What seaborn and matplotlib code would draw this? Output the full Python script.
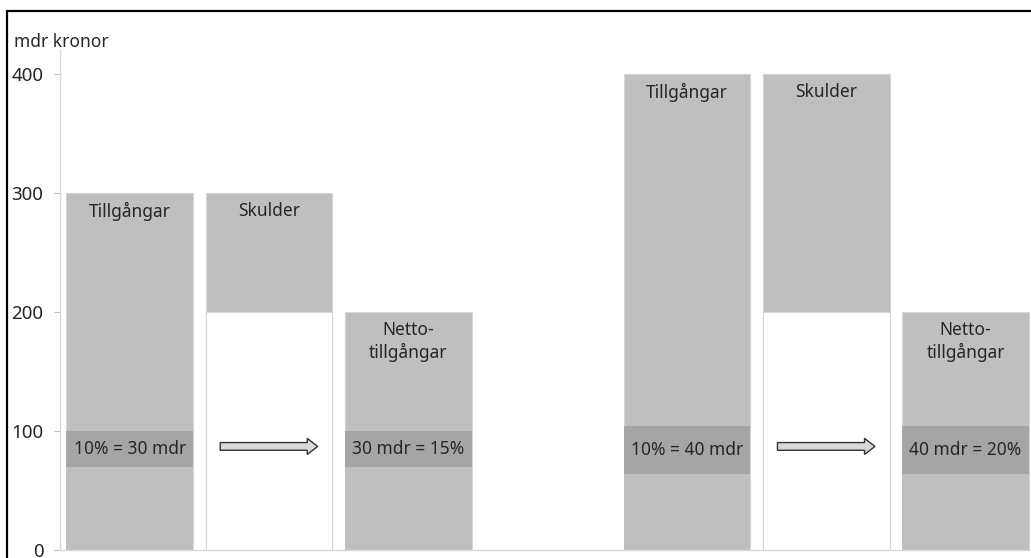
import matplotlib
matplotlib.use("Agg")
import matplotlib.pyplot as plt
from matplotlib.patches import Rectangle, FancyArrow
import numpy as np
import pandas as pd
import seaborn as sns

# ---- data ----
keys = ["A1", "L1", "N1", "gap", "A2", "L2", "N2"]
bar_labels = ["Tillgångar", "Skulder", "Netto-\ntillgångar", "", "Tillgångar", "Skulder", "Netto-\ntillgångar"]
totals = [300, 300, 200, np.nan, 400, 400, 200]          # full bar height
white_part = [np.nan, 200, np.nan, np.nan, np.nan, 200, np.nan]  # uncovered part of liabilities
band_top = [100, np.nan, 100, np.nan, 104, np.nan, 104]
band_bottom = [70, np.nan, 70, np.nan, 64, np.nan, 64]
band_labels = ["10% = 30 mdr", "", "30 mdr = 15%", "", "10% = 40 mdr", "", "40 mdr = 20%"]
arrow_slots = ["L1", "L2"]
arrow_value = 87
yticks = [0, 100, 200, 300, 400]

df = pd.DataFrame({"key": keys, "total": totals, "white": white_part,
                   "btop": band_top, "bbot": band_bottom})

sns.set_theme(style="white")
plt.rcParams["font.family"] = ["Noto Sans", "DejaVu Sans"]

W, H = 1031, 558
fig = plt.figure(figsize=(W / 100, H / 100), dpi=100)
ax = fig.add_axes([60 / W, 8 / H, (W - 60) / W, (550 - 50) / H])

GRAY = "#bfbfbf"
DARK = "#a5a5a5"
EDGE = "#d6d6d6"
TXT = "#262626"
bw = 0.91

sns.barplot(data=df, x="key", y="total", order=keys, color=GRAY, saturation=1,
            width=bw, edgecolor=EDGE, linewidth=0.8, ax=ax)
sns.barplot(data=df, x="key", y="white", order=keys, color="white", saturation=1,
            width=bw, edgecolor=EDGE, linewidth=0.8, ax=ax)
sns.barplot(data=df, x="key", y="btop", order=keys, color=DARK, saturation=1,
            width=bw, linewidth=0, ax=ax)
sns.barplot(data=df, x="key", y="bbot", order=keys, color=GRAY, saturation=1,
            width=bw, linewidth=0, ax=ax)

ax.set_xlim(-0.5, 6.47)
ax.set_ylim(0, 420)
ax.set_yticks(yticks)
ax.set_xticks([])
ax.set_xlabel("")
ax.set_ylabel("")
for s in ["top", "right"]:
    ax.spines[s].set_visible(False)
for s in ["left", "bottom"]:
    ax.spines[s].set_color("#d9d9d9")
    ax.spines[s].set_linewidth(1.0)
ax.tick_params(axis="y", left=True, length=4, width=0.8, color="#bfbfbf",
               pad=8, labelsize=13.5, labelcolor=TXT)

# labels inside bars
for i, (lab, tot) in enumerate(zip(bar_labels, totals)):
    if not lab:
        continue
    ax.text(i, tot - 8, lab, ha="center", va="top", fontsize=12.5, color=TXT,
            linespacing=1.2)

for i, (lab, t, b) in enumerate(zip(band_labels, band_top, band_bottom)):
    if lab:
        ax.text(i, (t + b) / 2, lab, ha="center", va="center", fontsize=12.5, color=TXT)

# arrows
for k in arrow_slots:
    i = keys.index(k)
    x0, x1 = i - 0.35, i + 0.35
    ax.add_patch(FancyArrow(x0, arrow_value, x1 - x0, 0, width=6.5, head_width=13.5,
                            head_length=0.075, length_includes_head=True,
                            facecolor="#d9d9d9", edgecolor="#333333", linewidth=1.0,
                            zorder=5))

fig.text(14 / W, 1 - 42 / H, "mdr kronor", ha="left", va="center", fontsize=12.5, color=TXT)

# outer frame
fig.patches.append(Rectangle((7 / W, -0.1), 1.2, 1.1 - 11 / H, transform=fig.transFigure,
                             fill=False, edgecolor="black", linewidth=1.6))

fig.savefig("out.png", dpi=100)
